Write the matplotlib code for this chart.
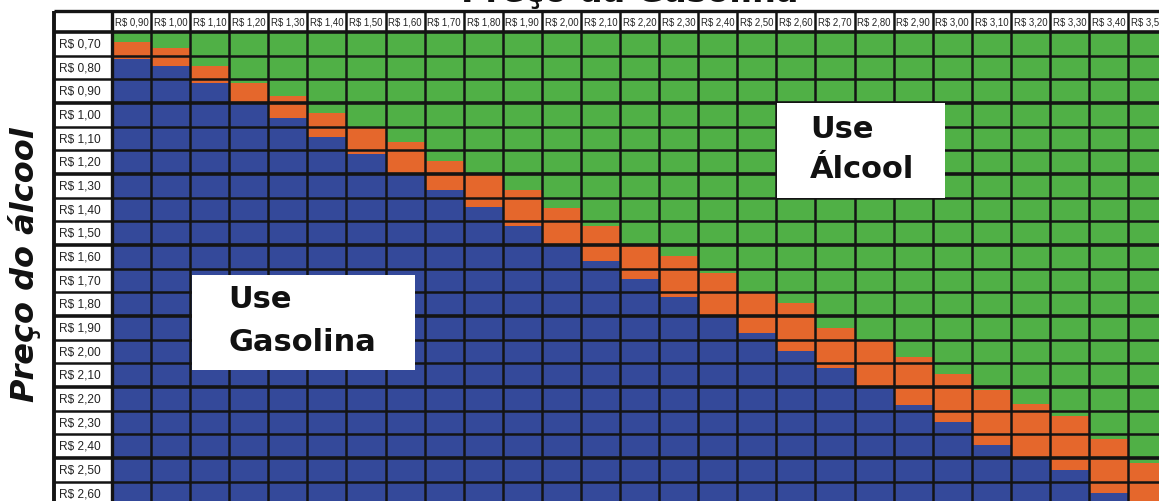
import matplotlib
matplotlib.use('Agg')
import matplotlib.pyplot as plt
from matplotlib.patches import Rectangle

# Preço da gasolina (colunas) e preço do álcool (linhas)
gas_labels = ['R$ 0,90', 'R$ 1,00', 'R$ 1,10', 'R$ 1,20', 'R$ 1,30', 'R$ 1,40',
              'R$ 1,50', 'R$ 1,60', 'R$ 1,70', 'R$ 1,80', 'R$ 1,90', 'R$ 2,00',
              'R$ 2,10', 'R$ 2,20', 'R$ 2,30', 'R$ 2,40', 'R$ 2,50', 'R$ 2,60',
              'R$ 2,70', 'R$ 2,80', 'R$ 2,90', 'R$ 3,00', 'R$ 3,10', 'R$ 3,20',
              'R$ 3,30', 'R$ 3,40', 'R$ 3,50']
alcohol_labels = ['R$ 0,70', 'R$ 0,80', 'R$ 0,90', 'R$ 1,00', 'R$ 1,10', 'R$ 1,20',
                  'R$ 1,30', 'R$ 1,40', 'R$ 1,50', 'R$ 1,60', 'R$ 1,70', 'R$ 1,80',
                  'R$ 1,90', 'R$ 2,00', 'R$ 2,10', 'R$ 2,20', 'R$ 2,30', 'R$ 2,40',
                  'R$ 2,50', 'R$ 2,60']
alcohol_prices = [0.70, 0.80, 0.90, 1.00, 1.10, 1.20, 1.30, 1.40, 1.50, 1.60,
                  1.70, 1.80, 1.90, 2.00, 2.10, 2.20, 2.30, 2.40, 2.50, 2.60]

# preço do álcool onde acaba o verde (começa a faixa laranja), por coluna
orange_start = [0.692, 0.716, 0.792, 0.867, 0.919, 0.993, 1.050, 1.116, 1.194,
                1.250, 1.318, 1.395, 1.470, 1.550, 1.595, 1.669, 1.750, 1.796,
                1.899, 1.950, 2.022, 2.095, 2.162, 2.223, 2.272, 2.371, 2.470]
# preço do álcool onde acaba o laranja (começa o azul), por coluna
blue_start = [0.764, 0.792, 0.864, 0.950, 1.013, 1.092, 1.165, 1.250, 1.318,
              1.391, 1.470, 1.550, 1.618, 1.695, 1.768, 1.850, 1.923, 1.998,
              2.071, 2.150, 2.226, 2.296, 2.395, 2.450, 2.501, 2.599, 2.690]

GREEN = '#50B046'
ORANGE = '#E5672C'
BLUE = '#34499A'
LINE = '#141414'

row_h = 0.10
grid_top = alcohol_prices[0] - row_h / 2
grid_bot = alcohol_prices[-1] + row_h / 2
header_top = grid_top - 0.089
label_left = -1.48

fig = plt.figure(figsize=(11.59, 5.01), dpi=100)
ax = fig.add_axes([0, 0, 1, 1])
ax.set_xlim(-2.866, 26.79)
ax.set_ylim(2.6314, 0.5148)
ax.axis('off')

cols = list(range(len(gas_labels)))

# faixas de cada coluna
ax.bar(cols, [o - grid_top for o in orange_start], bottom=grid_top, width=1,
       align='edge', color=GREEN, linewidth=0, zorder=1)
ax.bar(cols, [b - o for o, b in zip(orange_start, blue_start)], bottom=orange_start,
       width=1, align='edge', color=ORANGE, linewidth=0, zorder=1)
ax.bar(cols, [grid_bot - b for b in blue_start], bottom=blue_start, width=1,
       align='edge', color=BLUE, linewidth=0, zorder=1)

# coluna de rótulos e linha de cabeçalho
ax.add_patch(Rectangle((label_left, header_top), -label_left, grid_bot - header_top,
                       facecolor='white', edgecolor='none', zorder=1))
ax.add_patch(Rectangle((0, header_top), len(cols) + 1, grid_top - header_top,
                       facecolor='white', edgecolor='none', zorder=1))

# linhas da grade
n_rows = len(alcohol_prices)
for k in range(n_rows + 1):
    y = grid_top + k * row_h
    lw = 2.6 if k % 3 == 0 else 1.8
    ax.hlines(y, label_left, len(cols) + 1, color=LINE, linewidth=lw, zorder=2)
ax.hlines(header_top, label_left, len(cols) + 1, color=LINE, linewidth=2.4, zorder=2)
for c in range(len(cols) + 1):
    ax.vlines(c, header_top, grid_bot, color=LINE, linewidth=1.8, zorder=2)
ax.vlines(0, header_top, grid_bot, color=LINE, linewidth=2.4, zorder=2)
ax.vlines(label_left, header_top, grid_bot, color=LINE, linewidth=2.8, zorder=2)

for c, lab in zip(cols, gas_labels):
    ax.text(c + 0.5, (header_top + grid_top) / 2 + 0.004, lab, ha='center', va='center',
            fontsize=6.9, family='Liberation Sans', color='#222222', zorder=3)
for p, lab in zip(alcohol_prices, alcohol_labels):
    ax.text(label_left + 0.13, p + 0.003, lab, ha='left', va='center',
            fontsize=8.6, family='Liberation Sans', color='#222222', zorder=3)

# caixas de texto
ax.add_patch(Rectangle((17.02, 0.95), 4.30, 0.401, facecolor='white', edgecolor='none',
                       zorder=4))
ax.add_patch(Rectangle((2.05, 1.677), 5.70, 0.401, facecolor='white', edgecolor='none',
                       zorder=4))
box_text = dict(fontsize=22, fontweight='bold', ha='left', va='center',
                color='#111111', zorder=5)
ax.text(17.86, 1.064, 'Use', **box_text)
ax.text(17.86, 1.233, 'Álcool', **box_text)
ax.text(2.97, 1.782, 'Use', **box_text)
ax.text(2.97, 1.960, 'Gasolina', **box_text)

# títulos dos eixos (o título de cima aparece cortado, como no original)
fig.text(630 / 1159, 1 - 2 / 501, 'Preço da Gasolina', fontsize=24, fontweight='bold',
         ha='center', va='baseline', color='#111111')
fig.text(25 / 1159, 1 - 265 / 501, 'Preço do álcool', fontsize=23, fontweight='bold',
         style='italic', rotation=90, ha='center', va='center', color='#111111')

fig.savefig('out.png', dpi=100)
